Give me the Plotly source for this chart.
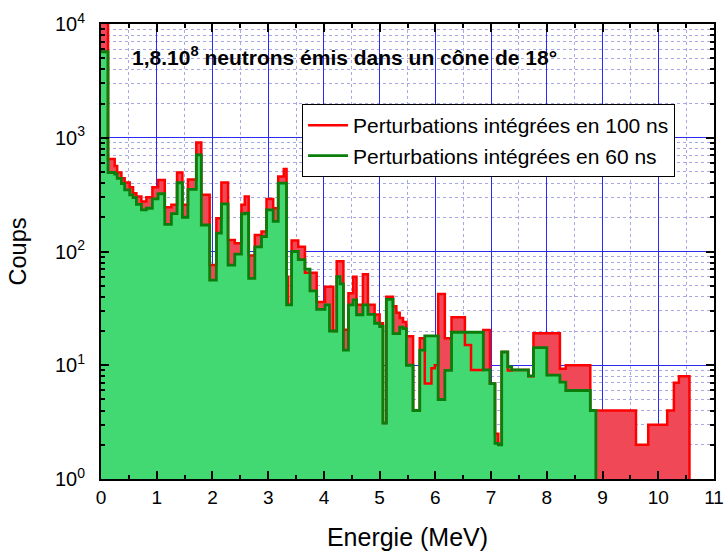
import plotly.graph_objects as go

# Energy bin edges (MeV) shared by both spectra
energy_edges = [
    0.0, 0.126, 0.246, 0.29, 0.366, 0.425, 0.515, 0.575, 0.635, 0.725,
    0.814, 0.922, 1.024, 1.144, 1.263, 1.365, 1.461, 1.56, 1.71, 1.80,
    1.95, 2.07, 2.16, 2.28, 2.40, 2.52, 2.58, 2.65, 2.76, 2.88,
    2.97, 3.09, 3.18, 3.28, 3.33, 3.36, 3.42, 3.54, 3.66, 3.75,
    3.87, 4.02, 4.10, 4.17, 4.23, 4.29, 4.35, 4.44, 4.525, 4.585,
    4.70, 4.79, 4.91, 5.0, 5.06, 5.12, 5.24, 5.30, 5.36, 5.42,
    5.48, 5.60, 5.72, 5.81, 5.93, 5.99, 6.05, 6.17, 6.29, 6.53,
    6.64, 6.86, 6.98, 7.07, 7.13, 7.19, 7.30, 7.37, 7.67, 7.76,
    8.0, 8.235, 8.34, 8.78, 8.88, 9.6, 9.82, 10.16, 10.28, 10.37,
    10.56,
]

# Counts per bin, perturbations integrated over 100 ns
counts_100ns = [
    12000, 650, 565, 494, 441, 404, 367, 325, 304, 275,
    300, 367, 426, 245, 257, 494, 257, 430, 908, 315,
    76, 196, 404, 126, 118, 257, 305, 92, 140, 150,
    290, 240, 456, 530, 60, 34, 125, 110, 65, 65,
    36, 49, 49, 20, 82, 82, 20.5, 43, 60, 34,
    63, 34, 28, 23.4, 3.1, 40, 33, 29, 26, 24,
    18, 4.0, 17.3, 6.9, 9.4, 10, 42.4, 17.3, 26.4, 15.1,
    9.1, 20.4, 6.9, 2.5, 2.0, 13.1, 9.0, 9.1, 8.0, 19.1,
    19.1, 9.3, 10, 4, 4, 2, 3, 4, 7, 8,
]

# Counts per bin, perturbations integrated over 60 ns (empty above 8.88 MeV)
counts_60ns = [
    5700, 495, 480, 440, 395, 348, 314, 298, 260, 232,
    240, 290, 322, 173, 215, 402, 200, 352, 706, 171,
    56, 145, 262, 76, 95, 214, 217, 58, 110, 135,
    232, 184, 399, 399, 34, 34, 100, 85, 70, 45,
    31, 34, 20, 20, 60, 52, 13.6, 34, 37.6, 27.8,
    34, 28, 23.4, 21.9, 3.1, 38, 19, 19, 21.6, 21,
    10, 4.0, 13.6, 18.1, 18.1, 18.1, 5.0, 9.0, 19.5, 19.5,
    19.5, 9.1, 6.9, 2.06, 2.0, 13.1, 9.7, 9.1, 8.05, 14.3,
    8.2, 7.1, 6.0, 4, None, None, None, None, None, None,
]

y_tick_values = [1, 10, 100, 1000, 10000]
y_tick_labels = ["10<sup>0</sup>", "10<sup>1</sup>", "10<sup>2</sup>",
                 "10<sup>3</sup>", "10<sup>4</sup>"]
x_tick_values = list(range(0, 12))

Y_RANGE = [0, 4]
FLOOR = 10 ** Y_RANGE[0]
FONT = "Arial, Liberation Sans, sans-serif"


def step_points(edges, values):
    """Left-edge/value pairs closed on the right by a drop to the axis floor."""
    xs, ys = [], []
    for left, v in zip(edges, values):
        if v is None:
            break
        xs.append(left)
        ys.append(v)
    right = edges[len(xs)]
    xs += [right, right]
    ys += [ys[-1], FLOOR]
    return xs, ys


x100, y100 = step_points(energy_edges, counts_100ns)
x60, y60 = step_points(energy_edges, counts_60ns)

RED_FILL = "rgba(240,72,86,1)"
GREEN_FILL = "rgba(66,216,114,1)"
RED_LINE = "#ff0000"
GREEN_LINE = "#0a7d0a"

fig = go.Figure()
# filled areas first, outlines on top
fig.add_trace(go.Scatter(x=x100, y=y100, mode="lines", line_shape="hv",
                         line=dict(width=0), fill="tozeroy", fillcolor=RED_FILL,
                         showlegend=False, hoverinfo="skip"))
fig.add_trace(go.Scatter(x=x60, y=y60, mode="lines", line_shape="hv",
                         line=dict(width=0), fill="tozeroy", fillcolor=GREEN_FILL,
                         showlegend=False, hoverinfo="skip"))
fig.add_trace(go.Scatter(x=x100, y=y100, mode="lines", line_shape="hv",
                         line=dict(color=RED_LINE, width=2.5),
                         name="Perturbations intégrées en 100 ns"))
fig.add_trace(go.Scatter(x=x60, y=y60, mode="lines", line_shape="hv",
                         line=dict(color=GREEN_LINE, width=2.8),
                         name="Perturbations intégrées en 60 ns"))

minor_y = [m * 10 ** d for d in range(Y_RANGE[0], Y_RANGE[1]) for m in range(2, 10)]

MAJOR_GRID = "#2a2af0"
MINOR_GRID = "#a8a8e6"

fig.update_layout(
    width=724, height=556, autosize=False,
    margin=dict(l=101, r=10, t=24, b=77),
    paper_bgcolor="white", plot_bgcolor="white",
    font=dict(family=FONT, color="black"),
    xaxis=dict(
        range=[0, 11], tickmode="array", tickvals=x_tick_values,
        automargin=False,
        ticks="inside", ticklen=8, tickwidth=2, tickcolor="black",
        showline=True, linewidth=2, linecolor="black", mirror="ticks",
        showgrid=True, gridcolor=MAJOR_GRID, gridwidth=1, zeroline=False,
        minor=dict(dtick=0.5, tick0=0, ticks="inside", ticklen=4, tickwidth=1.5,
                   tickcolor="black", showgrid=True, gridcolor=MINOR_GRID,
                   griddash="dot", gridwidth=1),
        tickfont=dict(size=19, family=FONT, color="black"),
        title=dict(text="Energie (MeV)", font=dict(size=25, family=FONT, color="black"),
                   standoff=22),
    ),
    yaxis=dict(
        type="log", range=Y_RANGE, tickmode="array",
        tickvals=y_tick_values, ticktext=y_tick_labels,
        automargin=False,
        ticks="inside", ticklen=8, tickwidth=2, tickcolor="black",
        showline=True, linewidth=2, linecolor="black", mirror="ticks",
        showgrid=True, gridcolor=MAJOR_GRID, gridwidth=1, zeroline=False,
        minor=dict(tickmode="array", tickvals=minor_y, ticks="inside", ticklen=4,
                   tickwidth=1.5, tickcolor="black", showgrid=True,
                   gridcolor=MINOR_GRID, griddash="dot", gridwidth=1),
        tickfont=dict(size=20, family=FONT, color="black"),
        ticklabelstandoff=10,
        title=dict(text="Coups", font=dict(size=23.5, family=FONT, color="black"),
                   standoff=22),
    ),
    legend=dict(x=0.328, y=0.824, xanchor="left", yanchor="top",
                bgcolor="white", bordercolor="black", borderwidth=1,
                font=dict(size=21, family=FONT, color="black"),
                tracegroupgap=0, itemwidth=40),
    annotations=[dict(
        text="1,8.10<sup>8</sup> neutrons émis dans un cône de 18°",
        xref="paper", yref="paper", x=0.047, y=0.93,
        xanchor="left", yanchor="middle", showarrow=False,
        font=dict(size=21, family=FONT, color="black", weight="bold"),
    )],
)

fig.write_html("out.html")
